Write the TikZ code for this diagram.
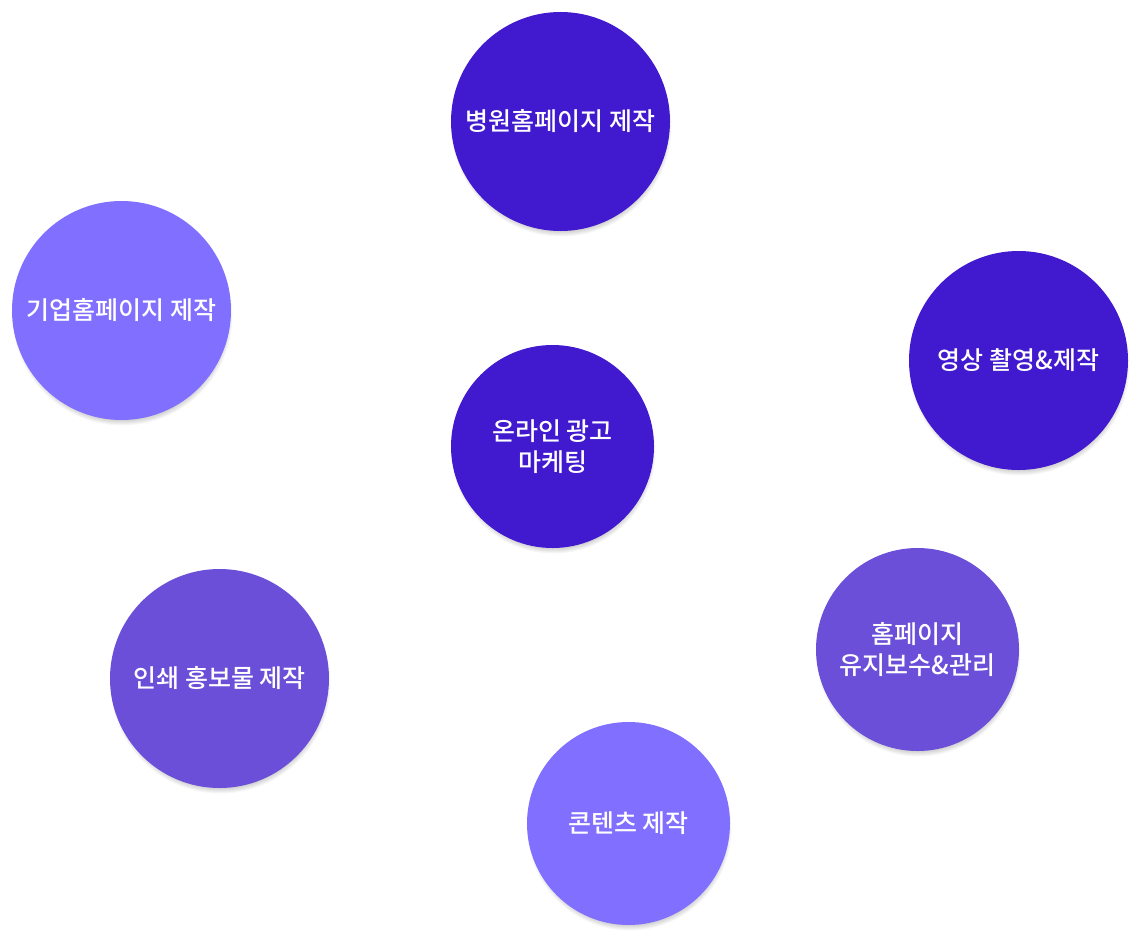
\documentclass[tikz,border=0pt]{standalone}
\usepackage{fontspec}
\setmainfont{Noto Sans CJK KR}
\newfontfamily\kr{Noto Sans CJK KR Medium}
\definecolor{dark}{HTML}{4119CF}
\definecolor{mid}{HTML}{6B4FD9}
\definecolor{light}{HTML}{8170FF}
\tikzset{
  bubble/.style={circle, inner sep=0pt, text=white, align=center,
    font=\kr\fontsize{25}{31}\selectfont},
  big/.style={bubble, minimum size=219pt},
  small/.style={bubble, minimum size=203pt},
}
\newcommand\softshadow[2]{%
  \foreach \k in {1,...,10}{
    \fill[black, opacity=0.03] ($#1+(1,5)$) circle[radius=#2+\k*1.0];
  }}
\usetikzlibrary{calc}
\begin{document}
\begin{tikzpicture}[x=1pt,y=-1pt]
\useasboundingbox (0,0) rectangle (1147,950);
\fill[white] (0,0) rectangle (1147,950);
\softshadow{(560.5,121.5)}{100}
\softshadow{(121.5,310.5)}{100}
\softshadow{(1018.5,360.5)}{100}
\softshadow{(552.5,446.5)}{92}
\softshadow{(219.5,678.5)}{100}
\softshadow{(917.5,649.5)}{92}
\softshadow{(628.5,823.5)}{92}
\node[big, fill=dark] (hospital) at (560.5,121.5) {병원홈페이지 제작};
\node[big, fill=light] (corp) at (121.5,310.5) {기업홈페이지 제작};
\node[big, fill=dark] (video) at (1018.5,360.5) {영상 촬영\&제작};
\node[small, fill=dark] (online) at (552.5,446.5) {온라인 광고\\마케팅};
\node[big, fill=mid] (print) at (219.5,678.5) {인쇄 홍보물 제작};
\node[small, fill=mid] (maint) at (917.5,649.5) {홈페이지\\유지보수\&관리};
\node[small, fill=light] (content) at (628.5,823.5) {콘텐츠 제작};
\end{tikzpicture}
\end{document}
